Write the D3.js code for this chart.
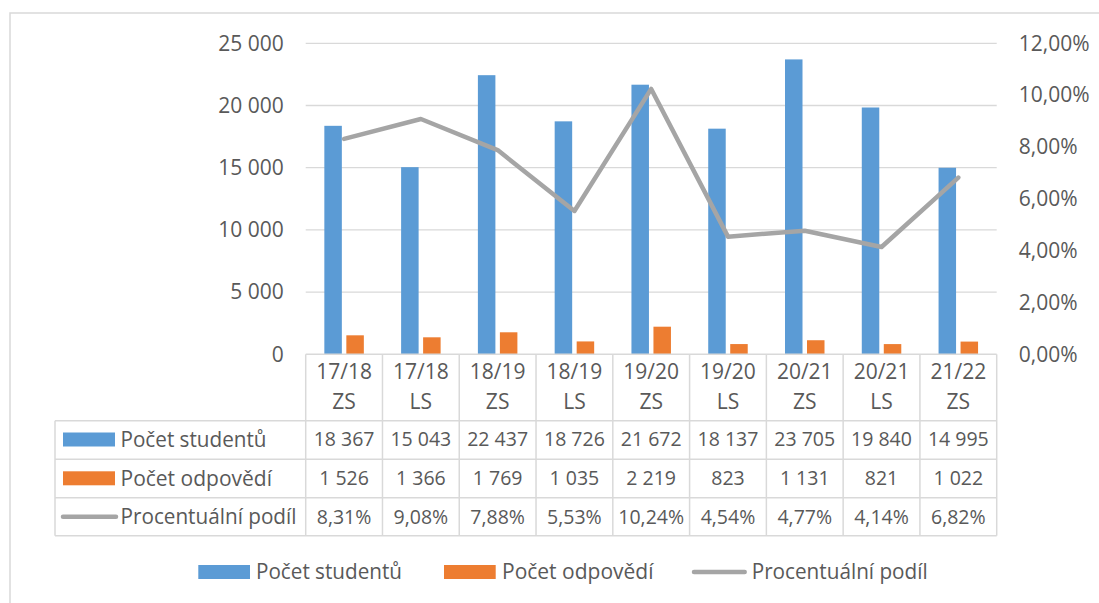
<!DOCTYPE html>
<html><head><meta charset="utf-8">
<script src="https://cdn.jsdelivr.net/npm/d3@7"></script>
<style>
body{margin:0;background:#fff;}
svg text{font-family:"Open Sans",sans-serif;fill:#595959;}
</style></head>
<body><svg id="c" width="1099" height="603"></svg>
<script>
const categories = [["17/18","ZS"],["17/18","LS"],["18/19","ZS"],["18/19","LS"],["19/20","ZS"],["19/20","LS"],["20/21","ZS"],["20/21","LS"],["21/22","ZS"]];
const students = [18367,15043,22437,18726,21672,18137,23705,19840,14995];
const responses = [1526,1366,1769,1035,2219,823,1131,821,1022];
const share = [8.31,9.08,7.88,5.53,10.24,4.54,4.77,4.14,6.82];
const leftTicks = [0,5000,10000,15000,20000,25000];
const rightTicks = [0,2,4,6,8,10,12];
const seriesNames = ["Počet studentů","Počet odpovědí","Procentuální podíl"];
const colors = ["#5b9bd5","#ed7d31","#a5a5a5"];

const loc = d3.formatLocale({decimal:",",thousands:"\u00a0",grouping:[3],currency:["","Kč"]});
const fInt = loc.format(",d");
const fPct = v => loc.format(".2f")(v) + "%";

const svg = d3.select("#c");
const fs = 19.5;
const labelW = [146, 151, 176];
// fit a text element to a target width
function fit(sel, w){
  const cur = sel.node().getComputedTextLength();
  if(Math.abs(cur-w)>1) sel.attr("textLength",w).attr("lengthAdjust","spacingAndGlyphs");
}
// outer border
svg.append("rect").attr("x",10).attr("y",13).attr("width",1100).attr("height",600)
  .attr("fill","none").attr("stroke","#d9d9d9").attr("stroke-width",1.5);

const x0 = 305.7, x1 = 996.7, yTop = 43.3, yZero = 354.3;
const x = d3.scaleBand().domain(d3.range(categories.length)).range([x0,x1]).padding(0);
const yL = d3.scaleLinear().domain([0,25000]).range([yZero,yTop]);
const yR = d3.scaleLinear().domain([0,12]).range([yZero,yTop]);

// gridlines
svg.append("g").selectAll("line").data(leftTicks.filter(d=>d>0)).join("line")
  .attr("x1",x0).attr("x2",x1).attr("y1",d=>yL(d)).attr("y2",d=>yL(d))
  .attr("stroke","#d9d9d9").attr("stroke-width",1.3);

// left axis
const gl = svg.append("g").attr("transform",`translate(${x0},0)`)
  .call(d3.axisLeft(yL).tickValues(leftTicks).tickFormat(fInt).tickSize(0).tickPadding(22));
gl.select(".domain").remove();
gl.selectAll("text").style("font-size","21px").attr("fill","#595959").style("font-family","Open Sans");
// right axis
const gr = svg.append("g").attr("transform",`translate(${x1},0)`)
  .call(d3.axisRight(yR).tickValues(rightTicks).tickFormat(fPct).tickSize(0).tickPadding(22));
gr.select(".domain").remove();
gr.selectAll("text").style("font-size","21px").attr("fill","#595959").style("font-family","Open Sans");

// bars
const bw = 17.5, gap = 4.5;
const cx = i => x(i) + x.bandwidth()/2;
svg.append("g").selectAll("rect").data(students).join("rect")
  .attr("x",(d,i)=>cx(i)-gap/2-bw).attr("width",bw)
  .attr("y",d=>yL(d)).attr("height",d=>yZero-yL(d)).attr("fill",colors[0]);
svg.append("g").selectAll("rect").data(responses).join("rect")
  .attr("x",(d,i)=>cx(i)+gap/2).attr("width",bw)
  .attr("y",d=>yL(d)).attr("height",d=>yZero-yL(d)).attr("fill",colors[1]);

// line
svg.append("path").datum(share)
  .attr("d",d3.line().x((d,i)=>cx(i)).y(d=>yR(d)))
  .attr("fill","none").attr("stroke",colors[2]).attr("stroke-width",4.5)
  .attr("stroke-linejoin","round").attr("stroke-linecap","round");

// data table
const rowY = [yZero, 420.7, 459.3, 497.7, 535.7];
const tableLeft = 55;
const tb = svg.append("g");
const bc = "#d9d9d9", bwid = 1.5;
tb.append("line").attr("x1",x0).attr("x2",x1).attr("y1",rowY[0]).attr("y2",rowY[0]).attr("stroke",bc).attr("stroke-width",bwid);
for(let r=1;r<rowY.length;r++){
  tb.append("line").attr("x1",tableLeft).attr("x2",x1).attr("y1",rowY[r]).attr("y2",rowY[r]).attr("stroke",bc).attr("stroke-width",bwid);
}
tb.append("line").attr("x1",tableLeft).attr("x2",tableLeft).attr("y1",rowY[1]).attr("y2",rowY[4]).attr("stroke",bc).attr("stroke-width",bwid);
for(let i=0;i<=categories.length;i++){
  const xx = x0 + i*x.bandwidth();
  tb.append("line").attr("x1",xx).attr("x2",xx).attr("y1",rowY[0]).attr("y2",rowY[4]).attr("stroke",bc).attr("stroke-width",bwid);
}
// header
categories.forEach((c,i)=>{
  tb.append("text").attr("x",cx(i)).attr("y",372).attr("dy","0.35em").attr("text-anchor","middle").style("font-size","21px").text(c[0]);
  tb.append("text").attr("x",cx(i)).attr("y",402).attr("dy","0.35em").attr("text-anchor","middle").style("font-size","21px").text(c[1]);
});
const rowsData = [students.map(fInt), responses.map(fInt), share.map(fPct)];
const rowMid = [439.5, 478.3, 516.7];
rowsData.forEach((row,r)=>{
  row.forEach((t,i)=>{
    tb.append("text").attr("x",cx(i)).attr("y",rowMid[r]).attr("dy","0.35em").attr("text-anchor","middle").style("font-size",fs+"px").text(t);
  });
  if(r<2){
    tb.append("rect").attr("x",63).attr("y",rowMid[r]-7).attr("width",52).attr("height",14).attr("fill",colors[r]);
  } else {
    tb.append("line").attr("x1",63).attr("x2",116).attr("y1",rowMid[r]).attr("y2",rowMid[r]).attr("stroke",colors[2]).attr("stroke-width",4.5).attr("stroke-linecap","round");
  }
  const lbl = tb.append("text").attr("x",120.5).attr("y",rowMid[r]).attr("dy","0.35em").style("font-size","21px").text(seriesNames[r]);
  fit(lbl, labelW[r]);
});

// bottom legend
const lg = svg.append("g");
const ly = 572;
const items = [{kx:198.3,kw:51.7,tx:256,type:"rect"},{kx:444,kw:51.7,tx:502,type:"rect"},{kx:692,kw:54.7,tx:751.7,type:"line"}];
items.forEach((it,i)=>{
  if(it.type==="rect") lg.append("rect").attr("x",it.kx).attr("y",ly-7).attr("width",it.kw).attr("height",14).attr("fill",colors[i]);
  else lg.append("line").attr("x1",it.kx+2).attr("x2",it.kx+it.kw-2).attr("y1",ly).attr("y2",ly).attr("stroke",colors[i]).attr("stroke-width",4.5).attr("stroke-linecap","round");
  const t = lg.append("text").attr("x",it.tx).attr("y",ly).attr("dy","0.35em").style("font-size","21px").text(seriesNames[i]);
  fit(t, labelW[i]);
});
</script></body></html>
